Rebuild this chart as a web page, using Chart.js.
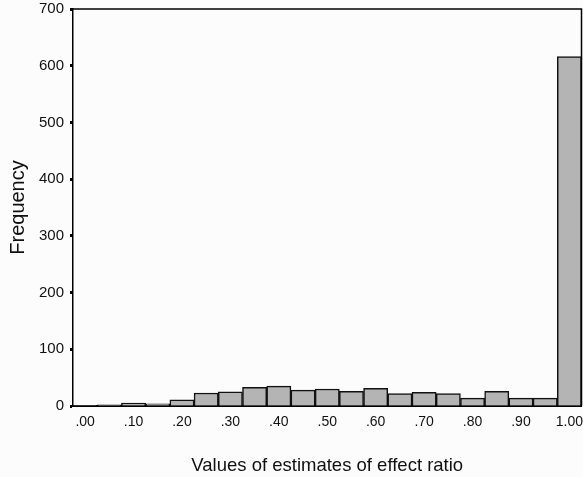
<!DOCTYPE html>
<html><head><meta charset="utf-8">
<script src="https://cdn.jsdelivr.net/npm/chart.js@4"></script>
<style>html,body{margin:0;padding:0;background:#fcfcfc;}#wrap{width:583px;height:477px;position:relative;}</style>
</head><body><div id="wrap"><canvas id="c" width="583" height="477"></canvas></div>
<script>
const categories = ['.00','','.10','','.20','','.30','','.40','','.50','','.60','','.70','','.80','','.90','','1.00'];
const frequency = [1, 2, 5, 4, 11, 23, 25, 33, 35, 28, 30, 26, 31, 22, 24, 22, 14, 26, 14, 14, 616];
const yTicks = [0, 100, 200, 300, 400, 500, 600, 700];

const frame = {
  id: 'frame',
  afterDraw(chart) {
    const a = chart.chartArea, ctx = chart.ctx;
    ctx.save();
    ctx.strokeStyle = '#000'; ctx.lineWidth = 1.5;
    ctx.beginPath();
    ctx.moveTo(a.left, a.top); ctx.lineTo(a.right, a.top); ctx.lineTo(a.right, a.bottom);
    ctx.stroke();
    ctx.restore();
  }
};

new Chart(document.getElementById('c'), {
  type: 'bar',
  data: { labels: categories, datasets: [{ data: frequency, backgroundColor: '#b4b4b4', borderColor: '#111', borderWidth: 1.5, categoryPercentage: 1, barPercentage: 1 }] },
  options: {
    responsive: false, animation: false,
    layout: { padding: { top: 9, right: 1.5, left: 0, bottom: 0 } },
    plugins: { legend: { display: false }, tooltip: { enabled: false } },
    scales: {
      x: {
        grid: { display: false, drawTicks: false },
        border: { display: true, color: '#000', width: 2 },
        ticks: { autoSkip: false, maxRotation: 0, color: '#111', font: { family: 'Liberation Sans', size: 14 }, padding: 8 },
        title: { display: true, text: 'Values of estimates of effect ratio', color: '#111', font: { family: 'Liberation Sans', size: 18.5 }, padding: { top: 10, bottom: 0 } },
        afterFit(s) { s.height = 71; s.paddingLeft = 0; s.paddingRight = 0; }
      },
      y: {
        min: 0, max: 700,
        afterBuildTicks(s) { s.ticks = yTicks.map(v => ({ value: v })); },
        grid: { drawOnChartArea: false, drawTicks: true, tickLength: 3, tickWidth: 3, color: '#000' },
        border: { display: true, color: '#000', width: 1.5 },
        ticks: { color: '#111', font: { family: 'Liberation Sans', size: 15 }, padding: 6 },
        title: { display: true, text: 'Frequency', color: '#111', font: { family: 'Liberation Sans', size: 20 }, padding: { top: 6, bottom: 0 } },
        afterFit(s) { s.width = 73; s.paddingTop = 0; s.paddingBottom = 0; }
      }
    }
  },
  plugins: [frame]
});
</script></body></html>
